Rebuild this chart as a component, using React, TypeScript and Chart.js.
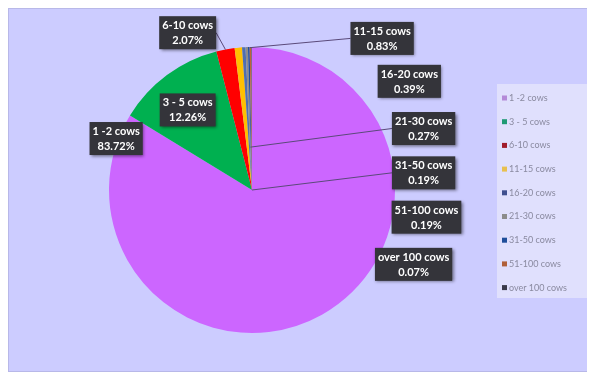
import React, { useEffect, useRef } from "react";
import { Chart, registerables } from "chart.js";

Chart.register(...registerables);

const categories = [
  "1 -2 cows",
  "3 - 5 cows",
  "6-10 cows",
  "11-15 cows",
  "16-20 cows",
  "21-30 cows",
  "31-50 cows",
  "51-100 cows",
  "over 100 cows",
];
const shares = [83.72, 12.26, 2.07, 0.83, 0.39, 0.27, 0.19, 0.19, 0.07];
const sliceColors = [
  "#cc66ff",
  "#00b050",
  "#ff0000",
  "#ffc000",
  "#4f6fb0",
  "#8c8c8c",
  "#1f4e9a",
  "#c0603a",
  "#505064",
];
const legendColors = [
  "#b48ad8",
  "#1f9a74",
  "#a01c2c",
  "#e8c050",
  "#3f4f8f",
  "#8c8c8c",
  "#1f4e9a",
  "#b0603a",
  "#3a3a4a",
];
// label centre offsets in units of the pie radius (layout only)
const labelOffsetX = [-0.95, -0.45, -0.45, 0.91, 1.1, 1.2, 1.2, 1.22, 1.13];
const labelOffsetY = [-0.36, -0.56, -1.1, -1.06, -0.76, -0.43, -0.12, 0.19, 0.52];
// leader line target, as fraction of radius along slice mid-angle (null = none)
const leaderTarget: (number | null)[] = [null, null, 1.0, 1.0, null, 0.3, 0.0, null, null];

const labelPlugin = {
  id: "labelBoxes",
  afterDatasetsDraw(chart: any) {
    const ctx = chart.ctx;
    const meta = chart.getDatasetMeta(0);
    ctx.save();
    ctx.font = "bold 11px Lato";
    meta.data.forEach((arc: any, i: number) => {
      const { x, y, outerRadius, startAngle, endAngle } = arc.getProps(
        ["x", "y", "outerRadius", "startAngle", "endAngle"],
        true
      );
      const R = outerRadius;
      const lx = x + labelOffsetX[i] * R;
      const ly = y + labelOffsetY[i] * R;
      const l1 = categories[i];
      const l2 = shares[i].toFixed(2) + "%";
      const w = Math.max(ctx.measureText(l1).width, ctx.measureText(l2).width) + 6;
      const h = 33;
      const bx = lx - w / 2;
      const by = ly - h / 2;
      const t = leaderTarget[i];
      if (t !== null) {
        const mid = (startAngle + endAngle) / 2;
        let tx = x + Math.cos(mid) * R * t;
        const ty = y + Math.sin(mid) * R * t;
        if (t > 0.9 && tx < x && lx > x) tx = x - 2;
        const sx = tx < bx ? bx : bx + w;
        const sy = ly;
        ctx.strokeStyle = "#5a4a7a";
        ctx.lineWidth = 1;
        ctx.beginPath();
        ctx.moveTo(sx, sy);
        ctx.lineTo(tx, ty);
        ctx.stroke();
      }
      ctx.save();
      ctx.shadowColor = "rgba(0,0,0,0.45)";
      ctx.shadowBlur = 3;
      ctx.shadowOffsetX = 1.5;
      ctx.shadowOffsetY = 1.5;
      ctx.fillStyle = "#34343a";
      ctx.fillRect(bx, by, w, h);
      ctx.restore();
      ctx.fillStyle = "#ffffff";
      ctx.textAlign = "center";
      ctx.textBaseline = "middle";
      ctx.fillText(l1, lx, ly - 7);
      ctx.fillText(l2, lx, ly + 8);
    });
    ctx.restore();
  },
  afterDraw(chart: any) {
    const ctx = chart.ctx;
    const area = chart.chartArea;
    const left = area.right + 1;
    const top = 76;
    ctx.save();
    ctx.fillStyle = "rgba(232,232,252,0.7)";
    ctx.fillRect(left, top, 95, 214);
    ctx.font = "9px Lato";
    ctx.textBaseline = "middle";
    ctx.textAlign = "left";
    categories.forEach((c, i) => {
      const yy = top + 14 + i * 23.7;
      ctx.fillStyle = legendColors[i];
      ctx.fillRect(left + 5, yy - 2.5, 5, 5);
      ctx.fillStyle = "#8a8aa0";
      ctx.fillText(c, left + 12, yy);
    });
    ctx.restore();
  },
};

const bgPlugin = {
  id: "bg",
  beforeDraw(chart: any) {
    const ctx = chart.ctx;
    ctx.save();
    ctx.fillStyle = "#ccccff";
    ctx.fillRect(0, 0, chart.width, chart.height);
    ctx.strokeStyle = "#b8b8e8";
    ctx.lineWidth = 1;
    ctx.strokeRect(0.5, 0.5, chart.width - 1, chart.height - 1);
    ctx.restore();
  },
};

export default function App() {
  const ref = useRef<HTMLCanvasElement>(null);
  useEffect(() => {
    if (!ref.current) return;
    const chart = new Chart(ref.current, {
      type: "pie",
      data: {
        labels: categories,
        datasets: [
          {
            data: shares,
            backgroundColor: sliceColors,
            borderWidth: 0,
            radius: 143,
          },
        ],
      },
      options: {
        responsive: false,
        animation: false,
        layout: { padding: { right: 99 } },
        plugins: {
          legend: { display: false },
          tooltip: { enabled: false },
        },
      },
      plugins: [bgPlugin, labelPlugin],
    });
    return () => chart.destroy();
  }, []);
  return <canvas ref={ref} width={587} height={364} style={{ display: "block" }} />;
}
